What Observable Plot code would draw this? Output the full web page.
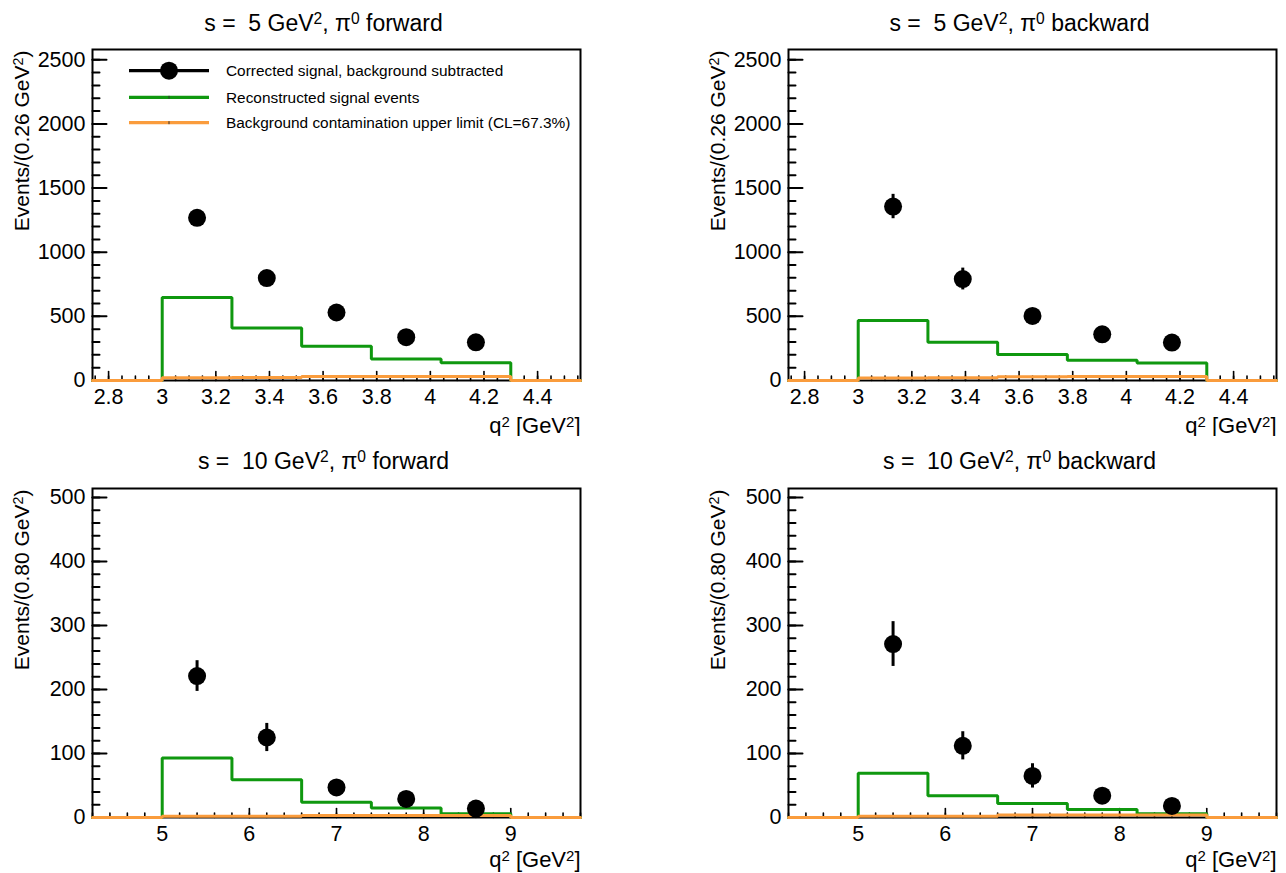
<!DOCTYPE html>
<html><head><meta charset="utf-8">
<script src="https://cdn.jsdelivr.net/npm/d3@7"></script>
<script src="https://cdn.jsdelivr.net/npm/@observablehq/plot@0.6"></script>
<style>
html,body{margin:0;padding:0;background:#fff;}
#wrap{position:relative;width:1286px;height:873px;overflow:hidden;}
#wrap svg{position:absolute;display:block;}
</style></head><body><div id="wrap"></div>
<script>
// ---------- data ----------
const edgesS5 = [2.74, 3.00, 3.26, 3.52, 3.78, 4.04, 4.30, 4.56];
const edgesS10 = [4.2, 5.0, 5.8, 6.6, 7.4, 8.2, 9.0, 9.8];
const centersS5 = [3.13, 3.39, 3.65, 3.91, 4.17];
const centersS10 = [5.4, 6.2, 7.0, 7.8, 8.6];

const corrS5Fwd = [1268, 798, 530, 338, 298];
const errS5Fwd = [40, 32, 26, 22, 20];
const recoS5Fwd = [646, 410, 266, 168, 139];
const bkgS5Fwd = [22, 24, 31, 32, 32];

const corrS5Bwd = [1356, 791, 503, 360, 296];
const errS5Bwd = [95, 85, 50, 40, 35];
const recoS5Bwd = [467, 298, 202, 158, 137];
const bkgS5Bwd = [20, 22, 30, 31, 31];

const corrS10Fwd = [221, 125, 47, 29, 14];
const errS10Fwd = [24, 22, 9, 7, 5];
const recoS10Fwd = [93, 59, 24, 15, 6];
const bkgS10Fwd = [2, 2, 3, 3, 3];

const corrS10Bwd = [271, 112, 65, 34, 18];
const errS10Bwd = [35, 22, 19, 9, 6];
const recoS10Bwd = [69, 34, 22, 12.5, 6];
const bkgS10Bwd = [2, 2, 4, 4, 4];

const xTicksS5 = [2.8, 3, 3.2, 3.4, 3.6, 3.8, 4, 4.2, 4.4];
const xTicksS10 = [5, 6, 7, 8, 9];
const yTicksS5 = [0, 500, 1000, 1500, 2000, 2500];
const yTicksS10 = [0, 100, 200, 300, 400, 500];

const titles = [
  "s =  5 GeV^{2}, π^{0} forward",
  "s =  5 GeV^{2}, π^{0} backward",
  "s =  10 GeV^{2}, π^{0} forward",
  "s =  10 GeV^{2}, π^{0} backward"
];
const yLabelS5 = "Events/(0.26 GeV^{2})";
const yLabelS10 = "Events/(0.80 GeV^{2})";
const xLabel = "q^{2} [GeV^{2}]";
const legendLabels = [
  "Corrected signal, background subtracted",
  "Reconstructed signal events",
  "Background contamination upper limit (CL=67.3%)"
];

const GREEN = "#0f980f";
const ORANGE = "#fa9c3c";
const FONT = "'Liberation Sans', Arial, Helvetica, sans-serif";

// ---------- helpers ----------
const tickShape = {draw(ctx, l) { ctx.moveTo(0, 0); ctx.lineTo(0, -l); }};
const fmt = d => String(+(+d).toFixed(2));

function stepPoints(edges, vals) {
  const v = [0, ...vals, 0];
  return edges.map((e, i) => ({x: e, y: v[Math.min(i, v.length - 1)]}));
}

function applySup(svg) {
  d3.select(svg).selectAll("text, tspan").each(function() {
    const el = this;
    if (el.childNodes.length !== 1 || el.firstChild.nodeType !== 3) return;
    const s = el.textContent;
    if (!s.includes("^{")) return;
    el.textContent = "";
    const re = /\^\{([^}]*)\}/g;
    let last = 0, m;
    while ((m = re.exec(s))) {
      if (m.index > last) {
        const t = document.createElementNS("http://www.w3.org/2000/svg", "tspan");
        t.textContent = s.slice(last, m.index);
        el.appendChild(t);
      }
      const sup = document.createElementNS("http://www.w3.org/2000/svg", "tspan");
      sup.textContent = m[1];
      sup.setAttribute("font-size", "68%");
      sup.setAttribute("baseline-shift", "42%");
      el.appendChild(sup);
      last = m.index + m[0].length;
    }
    if (last < s.length) {
      const t = document.createElementNS("http://www.w3.org/2000/svg", "tspan");
      t.textContent = s.slice(last);
      el.appendChild(t);
    }
  });
}

function panel(cfg) {
  const {edges, centers, corr, err, reco, bkg, yMax, xTicks, xMinor, yTicks, yMinor,
         title, yLabel, mLeft, mRight, mTop, height} = cfg;
  const pts = centers.map((c, i) => ({x: c, y: corr[i], lo: corr[i] - err[i], hi: corr[i] + err[i]}));
  return Plot.plot({
    width: 643, height,
    marginLeft: mLeft, marginRight: mRight, marginTop: mTop, marginBottom: 56,
    x: {domain: [edges[0], edges[edges.length - 1]]},
    y: {domain: [0, yMax]},
    style: {fontFamily: FONT, background: "white", color: "black", overflow: "visible"},
    marks: [
      Plot.frame({stroke: "black", strokeWidth: 2}),
      // tick marks (inside the frame, ROOT style)
      Plot.vector(yTicks, {y: d => d, frameAnchor: "left", length: 14, rotate: 90, anchor: "start", shape: tickShape, stroke: "black", strokeWidth: 2}),
      Plot.vector(yMinor, {y: d => d, frameAnchor: "left", length: 7, rotate: 90, anchor: "start", shape: tickShape, stroke: "black", strokeWidth: 2}),
      Plot.vector(xTicks, {x: d => d, frameAnchor: "bottom", length: 9, rotate: 0, anchor: "start", shape: tickShape, stroke: "black", strokeWidth: 1.6}),
      Plot.vector(xMinor, {x: d => d, frameAnchor: "bottom", length: 4.5, rotate: 0, anchor: "start", shape: tickShape, stroke: "black", strokeWidth: 1.6}),
      // tick labels
      Plot.axisX(xTicks, {tickSize: 0, tickPadding: 8, fontSize: 21.5, tickFormat: fmt, label: null}),
      Plot.axisY(yTicks, {tickSize: 0, tickPadding: 7, fontSize: 21.5, tickFormat: d => String(d), label: null}),
      // axis titles
      Plot.text([xLabel], {text: d => d, frameAnchor: "bottom-right", textAnchor: "end", lineAnchor: "middle", dy: cfg.xLabelDy, fontSize: 22}),
      Plot.text([yLabel], {text: d => d, frameAnchor: "top-left", rotate: -90, textAnchor: "end", lineAnchor: "middle", dx: -70, dy: 1, fontSize: 21}),
      Plot.text([title], {text: d => d, frameAnchor: "top", lineAnchor: "middle", dx: -13, dy: cfg.titleDy, fontSize: 23}),
      // histograms
      Plot.line(stepPoints(edges, reco), {x: "x", y: "y", curve: "step-after", stroke: GREEN, strokeWidth: 3, strokeLinejoin: "miter"}),
      Plot.line(stepPoints(edges, bkg), {x: "x", y: "y", curve: "step-after", stroke: ORANGE, strokeWidth: 3, strokeLinejoin: "miter"}),
      // data points
      Plot.ruleX(pts, {x: "x", y1: "lo", y2: "hi", stroke: "black", strokeWidth: 3}),
      Plot.dot(pts, {x: "x", y: "y", r: 9, fill: "black", stroke: "none"})
    ]
  });
}

const minorS5x = d3.range(2.75, 4.5601, 0.05).map(v => +v.toFixed(2));
const minorS10x = d3.range(4.2, 9.8001, 0.2).map(v => +v.toFixed(2));
const minorS5y = d3.range(0, 2580, 100);
const minorS10y = d3.range(0, 514, 20);

const common5 = {edges: edgesS5, centers: centersS5, yMax: 2580, xTicks: xTicksS5, xMinor: minorS5x, yTicks: yTicksS5, yMinor: minorS5y, yLabel: yLabelS5, mTop: 49, height: 436, titleDy: -26, xLabelDy: 45};
const common10 = {edges: edgesS10, centers: centersS10, yMax: 514, xTicks: xTicksS10, xMinor: minorS10x, yTicks: yTicksS10, yMinor: minorS10y, yLabel: yLabelS10, mTop: 52, height: 437, titleDy: -27, xLabelDy: 42};

const panels = [
  {...common5, corr: corrS5Fwd, err: errS5Fwd, reco: recoS5Fwd, bkg: bkgS5Fwd, title: titles[0], mLeft: 92, mRight: 63, left: 0, top: 0},
  {...common5, corr: corrS5Bwd, err: errS5Bwd, reco: recoS5Bwd, bkg: bkgS5Bwd, title: titles[1], mLeft: 145, mRight: 10, left: 643, top: 0},
  {...common10, corr: corrS10Fwd, err: errS10Fwd, reco: recoS10Fwd, bkg: bkgS10Fwd, title: titles[2], mLeft: 92, mRight: 63, left: 0, top: 436},
  {...common10, corr: corrS10Bwd, err: errS10Bwd, reco: recoS10Bwd, bkg: bkgS10Bwd, title: titles[3], mLeft: 145, mRight: 10, left: 643, top: 436}
];

const wrap = document.getElementById("wrap");
panels.forEach((cfg, k) => {
  const svg = panel(cfg);
  svg.style.left = cfg.left + "px";
  svg.style.top = cfg.top + "px";
  if (k === 0) {
    // legend
    const g = d3.select(svg).append("g").attr("font-family", FONT).attr("font-size", 15.4).attr("text-anchor", "start");
    const rows = [{c: "black", dot: true}, {c: GREEN}, {c: ORANGE}];
    const ys = [70.7, 97.3, 122.7];
    rows.forEach((r, i) => {
      g.append("line").attr("x1", 129).attr("x2", 209).attr("y1", ys[i]).attr("y2", ys[i])
        .attr("stroke", r.c).attr("stroke-width", 3.2);
      if (r.dot) g.append("circle").attr("cx", 169).attr("cy", ys[i]).attr("r", 9).attr("fill", "black");
      else g.append("line").attr("x1", 169).attr("x2", 169).attr("y1", ys[i] - 1.5).attr("y2", ys[i] + 1.5).attr("stroke", "#333").attr("stroke-width", 1);
      g.append("text").attr("x", 226).attr("y", ys[i]).attr("dy", "0.35em").attr("text-anchor", "start").text(legendLabels[i]);
    });
  }
  applySup(svg);
  wrap.appendChild(svg);
});
</script>
</body></html>
